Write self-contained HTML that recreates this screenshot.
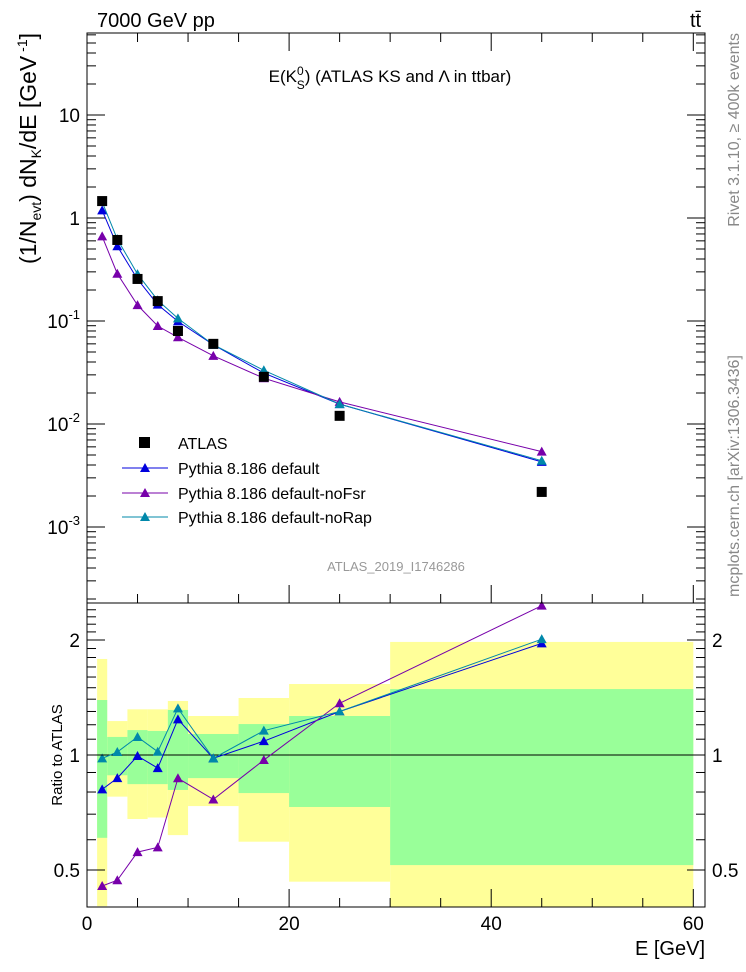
<!DOCTYPE html>
<html><head><meta charset="utf-8"><style>
body{margin:0;background:#fff}
svg{display:block;font-family:"Liberation Sans",sans-serif}
</style></head><body>
<svg id="c" width="746" height="972" viewBox="0 0 746 972" xmlns="http://www.w3.org/2000/svg">
<g id="bands"></g>
<g id="main"></g>
<g id="ratio"></g>
<g id="axes"></g>
<text x="97" y="27" font-size="20">7000 GeV pp</text>
<text x="690" y="27" font-size="20">tt̄</text>
<text x="390" y="82" font-size="17" text-anchor="middle">E(K<tspan font-size="12" dy="-7">0</tspan><tspan font-size="12" dx="-7" dy="14">S</tspan><tspan dy="-7">) (ATLAS KS and Λ in ttbar)</tspan></text>
<text transform="translate(36,33) rotate(-90)" font-size="23" text-anchor="end">(1/N<tspan font-size="14" dy="5">evt</tspan><tspan dy="-5">) dN</tspan><tspan font-size="14" dy="5">K</tspan><tspan dy="-5">/dE [GeV</tspan><tspan font-size="14" dy="-9"> -1</tspan><tspan dy="9">]</tspan></text>
<text transform="translate(62,755) rotate(-90)" font-size="15" text-anchor="middle">Ratio to ATLAS</text>
<text x="705" y="955" font-size="20" text-anchor="end">E [GeV]</text>
<text transform="translate(739,33) rotate(-90)" font-size="16" fill="#888" text-anchor="end">Rivet 3.1.10, ≥ 400k events</text>
<text transform="translate(739,597) rotate(-90)" font-size="16" fill="#888" text-anchor="start">mcplots.cern.ch [arXiv:1306.3436]</text>
<text x="396" y="571" font-size="13" fill="#999" text-anchor="middle">ATLAS_2019_I1746286</text>
<g>
<rect x="139" y="437" width="11" height="11" fill="#000"/>
<text x="178" y="449" font-size="16">ATLAS</text>
<line x1="122" y1="468" x2="168" y2="468" stroke="#0000dd"/>
<path d="M145 463 L150 472 L140 472Z" fill="#0000dd"/>
<text x="178" y="474" font-size="16">Pythia 8.186 default</text>
<line x1="122" y1="493" x2="168" y2="493" stroke="#7700aa"/>
<path d="M145 488 L150 497 L140 497Z" fill="#7700aa"/>
<text x="178" y="499" font-size="16">Pythia 8.186 default-noFsr</text>
<line x1="122" y1="517" x2="168" y2="517" stroke="#0088aa"/>
<path d="M145 512 L150 521 L140 521Z" fill="#0088aa"/>
<text x="178" y="523" font-size="16">Pythia 8.186 default-noRap</text>
</g>
</svg>
<script>
const xCenters=[1.5,3,5,7,9,12.5,17.5,25,45];
const binEdges=[1,2,4,6,8,10,15,20,30,60];
const atlas=[1.46,0.612,0.256,0.156,0.080,0.060,0.0287,0.0120,0.00219];
const ratioDefault=[0.813,0.87,0.994,0.924,1.24,0.98,1.087,1.30,1.96];
const ratioNoFsr=[0.454,0.47,0.557,0.573,0.869,0.765,0.97,1.366,2.46];
const ratioNoRap=[0.98,1.018,1.115,1.02,1.325,0.98,1.158,1.30,2.01];
const yellowHi=[1.784,1.227,1.317,1.317,1.385,1.265,1.41,1.534,1.977];
const yellowLo=[0.402,0.778,0.68,0.686,0.617,0.735,0.593,0.466,0.3];
const greenHi=[1.393,1.115,1.162,1.156,1.312,1.135,1.205,1.265,1.488];
const greenLo=[0.607,0.885,0.839,0.839,0.81,0.87,0.795,0.731,0.515];
const xTicks=[0,20,40,60];
const yTicks=[10,1,0.1,0.01,0.001];
const yTickLabels=["10","1","10^-1","10^-2","10^-3"];
const rTicks=[2,1,0.5];
const rTickLabels=["2","1","0.5"];

const NS="http://www.w3.org/2000/svg";
const L=87,R=705,T=33,M=603,B=907;
const X=v=>87+v*10.105;
const Y=v=>218-Math.log10(v)*103;
const RY=v=>Math.max(M,Math.min(B,755-Math.log10(v)*382));
function el(tag,a,p){const e=document.createElementNS(NS,tag);for(const k in a)e.setAttribute(k,a[k]);p.appendChild(e);return e;}
const gb=document.getElementById('bands'),gm=document.getElementById('main'),gr=document.getElementById('ratio'),ga=document.getElementById('axes');

for(let i=0;i<xCenters.length;i++){
  const x0=X(binEdges[i]),x1=X(binEdges[i+1]);
  let r=el('rect',{x:x0,y:RY(yellowHi[i]),width:x1-x0,height:RY(yellowLo[i])-RY(yellowHi[i]),fill:'#ffff99'},gb);
  
  
  r=el('rect',{x:x0,y:RY(greenHi[i]),width:x1-x0,height:RY(greenLo[i])-RY(greenHi[i]),fill:'#99ff99'},gb);
  
  
}
let one=el('line',{x1:L,x2:R,y1:RY(1),y2:RY(1),stroke:'#000'},gr);



const series=[[ratioDefault,'#0000dd','default'],[ratioNoFsr,'#7700aa','nofsr'],[ratioNoRap,'#0088aa','norap']];
series.forEach(([rat,col,nm])=>{
  const mp=xCenters.map((x,i)=>X(x)+','+Y(atlas[i]*rat[i])).join(' ');
  let pl=el('polyline',{points:mp,fill:'none',stroke:col,'stroke-width':1},gm);
  
  
  const rp=xCenters.map((x,i)=>X(x)+','+RY(rat[i])).join(' ');
  pl=el('polyline',{points:rp,fill:'none',stroke:col,'stroke-width':1},gr);
  
  
  xCenters.forEach((x,i)=>{
    const cx=X(x);
    for(const [cy,g] of [[Y(atlas[i]*rat[i]),gm],[RY(rat[i]),gr]]){
      const t=el('path',{d:`M${cx} ${cy-5} L${cx+5} ${cy+4} L${cx-5} ${cy+4}Z`,fill:col},g);
      
      
    }
  });
});
xCenters.forEach((x,i)=>{
  const s=el('rect',{x:X(x)-5,y:Y(atlas[i])-5,width:10,height:10,fill:'#000'},gm);
  
  
});

let f=el('rect',{x:L,y:T,width:R-L,height:M-T,fill:'none',stroke:'#000'},ga);


f=el('rect',{x:L,y:M,width:R-L,height:B-M,fill:'none',stroke:'#000'},ga);


for(let v=0;v<=60;v+=5){
  const x=X(v),big=v%20===0,len=big?18:9;
  for(const [y0,d] of [[M,-1],[T,1],[B,-1]]){
    el('line',{x1:x,x2:x,y1:y0,y2:y0+d*len,stroke:'#000'},ga);
  }
}
xTicks.forEach(v=>{
  const t=el('text',{x:X(v),y:930,'font-size':19,'text-anchor':'middle'},ga);
  t.textContent=v;
  
  
});
for(let e=-4;e<=1;e++){
  for(let m=1;m<10;m++){
    const v=m*Math.pow(10,e),y=Y(v);
    if(y<T||y>M)continue;
    const len=m===1?18:9;
    el('line',{x1:L,x2:L+len,y1:y,y2:y,stroke:'#000'},ga);
    el('line',{x1:R,x2:R-len,y1:y,y2:y,stroke:'#000'},ga);
  }
}
yTicks.forEach((v,i)=>{
  const t=el('text',{x:80,y:Y(v)+7,'font-size':19,'text-anchor':'end'},ga);
  const lab=yTickLabels[i];
  if(lab.includes('^')){const [b,e]=lab.split('^');t.textContent=b;const s=el('tspan',{dy:-9,'font-size':13},t);s.textContent=e;}
  else t.textContent=lab;
  
  
});
for(let v=0.4;v<=2.5;v+=0.1){
  const y=RY(v);if(y<=M||y>=B)continue;
  const big=Math.abs(v-1)<1e-6||Math.abs(v-2)<1e-6||Math.abs(v-0.5)<1e-6,len=big?18:9;
  el('line',{x1:L,x2:L+len,y1:y,y2:y,stroke:'#000'},ga);
  el('line',{x1:R,x2:R-len,y1:y,y2:y,stroke:'#000'},ga);
}
rTicks.forEach((v,i)=>{
  for(const [x,a] of [[80,'end'],[712,'start']]){
    const t=el('text',{x:x,y:RY(v)+7,'font-size':19,'text-anchor':a},ga);
    t.textContent=rTickLabels[i];
    
    
  }
});
</script>
</body></html>
